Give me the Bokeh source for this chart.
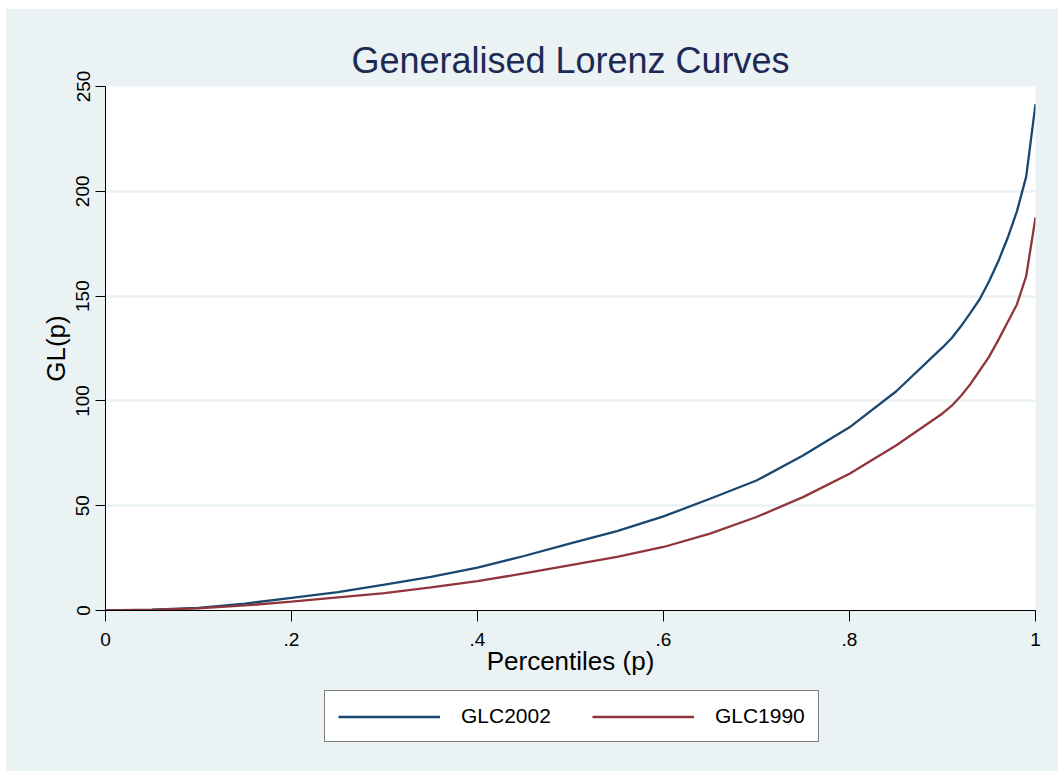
from bokeh.plotting import figure
from bokeh.layouts import column
from bokeh.models import Range1d, FixedTicker, Legend, LegendItem, ColumnDataSource
from bokeh.embed import file_html
from bokeh.resources import INLINE

# Percentiles (p)
percentiles = [0.0, 0.05, 0.10, 0.15, 0.20, 0.25, 0.30, 0.35, 0.40, 0.45, 0.50,
               0.55, 0.60, 0.65, 0.70, 0.75, 0.80, 0.85, 0.90, 0.91, 0.92, 0.93,
               0.94, 0.95, 0.96, 0.97, 0.98, 0.99, 1.00]
# Generalised Lorenz ordinates
glc2002 = [0.0, 0.4, 1.3, 3.3, 6.0, 8.8, 12.3, 16.0, 20.5, 26.0, 32.0,
           37.9, 44.9, 53.3, 62.0, 73.9, 87.4, 104.5, 125.5, 130.0, 135.7, 142.0,
           148.5, 157.0, 166.6, 177.7, 190.4, 207.0, 241.6]
glc1990 = [0.0, 0.3, 1.0, 2.4, 4.2, 6.3, 8.3, 11.0, 14.0, 17.7, 21.6,
           25.6, 30.3, 36.7, 44.6, 54.1, 65.2, 78.7, 94.0, 97.7, 102.5, 108.0,
           114.5, 121.0, 129.0, 137.5, 146.0, 159.5, 187.5]

x_ticks = [0, 0.2, 0.4, 0.6, 0.8, 1.0]
x_tick_labels = ["0", ".2", ".4", ".6", ".8", "1"]
y_ticks = [0, 50, 100, 150, 200, 250]

series_names = ["GLC2002", "GLC1990"]
series_colors = ["#1A476F", "#90353B"]

BG = "#EAF2F3"
FONT = "Liberation Sans"
W = 1052

src = ColumnDataSource(dict(p=percentiles, g02=glc2002, g90=glc1990))

p = figure(width=W, height=671, output_backend="svg", toolbar_location=None,
           x_range=Range1d(0, 1), y_range=Range1d(0, 250),
           min_border_left=99, min_border_right=23, min_border_top=77,
           min_border_bottom=70)

p.background_fill_color = "white"
p.border_fill_color = BG
p.outline_line_color = None

p.title.text = "Generalised Lorenz Curves"
p.title.text_font = FONT
p.title.text_font_size = "36px"
p.title.text_font_style = "normal"
p.title.text_color = "#1C2A55"
p.title.align = "center"
p.title.standoff = 12

p.line("p", "g02", source=src, line_color=series_colors[0], line_width=2.3)
p.line("p", "g90", source=src, line_color=series_colors[1], line_width=2.3)

# axes
xa = p.xaxis[0]
xa.ticker = FixedTicker(ticks=x_ticks)
xa.major_label_overrides = {t: l for t, l in zip(x_ticks, x_tick_labels)}
xa.axis_label = "Percentiles (p)"
ya = p.yaxis[0]
ya.ticker = FixedTicker(ticks=y_ticks)
ya.axis_label = "GL(p)"
ya.major_label_orientation = "vertical"

for ax in (xa, ya):
    ax.axis_line_color = "black"
    ax.axis_line_width = 1
    ax.major_tick_line_color = "black"
    ax.major_tick_in = 0
    ax.minor_tick_line_color = None
    ax.major_label_text_font = FONT
    ax.major_label_text_font_size = "19px"
    ax.major_label_text_color = "black"
    ax.axis_label_text_font = FONT
    ax.axis_label_text_font_size = "26px"
    ax.axis_label_text_font_style = "normal"
    ax.axis_label_text_color = "black"

xa.major_tick_out = 11
xa.major_label_standoff = 11
xa.axis_label_standoff = -3
ya.major_tick_out = 10
ya.major_label_standoff = 6
ya.axis_label_standoff = 3

p.xgrid.grid_line_color = None
p.ygrid.grid_line_color = BG
p.ygrid.grid_line_width = 2.5

# legend strip below the plot
lg = figure(width=W, height=91, output_backend="svg", toolbar_location=None,
            x_range=Range1d(0, 1), y_range=Range1d(0, 1),
            min_border_left=0, min_border_right=0, min_border_top=0,
            min_border_bottom=0)
lg.axis.visible = False
lg.grid.visible = False
lg.outline_line_color = None
lg.background_fill_color = BG
lg.border_fill_color = BG
# off-range dummy lines: only their legend glyphs are seen
d1 = lg.line(x=[5, 6], y=[5, 6], line_color=series_colors[0], line_width=2.3)
d2 = lg.line(x=[5, 6], y=[5, 6], line_color=series_colors[1], line_width=2.3)

legend = Legend(items=[LegendItem(label=series_names[0], renderers=[d1]),
                       LegendItem(label=series_names[1], renderers=[d2])],
                orientation="horizontal", location=(219, 29))
legend.label_text_font = FONT
legend.label_text_font_size = "21px"
legend.label_text_color = "black"
legend.glyph_width = 102
legend.glyph_height = 21
legend.label_standoff = 21
legend.spacing = 41
legend.padding = 13
legend.margin = 0
legend.border_line_color = "black"
legend.border_line_width = 1.2
legend.background_fill_color = "white"
legend.background_fill_alpha = 1.0
lg.add_layout(legend, "center")

layout = column(p, lg, spacing=0, margin=(9, 0, 0, 6),
                styles={"background-color": BG})

open("out.html", "w").write(file_html(layout, INLINE))
